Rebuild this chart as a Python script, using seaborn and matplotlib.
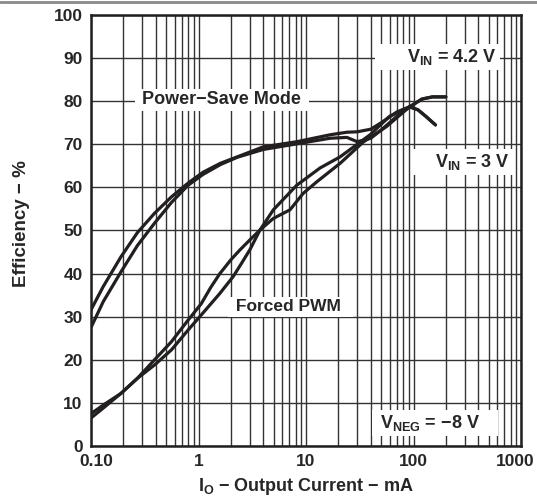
import matplotlib

matplotlib.use("Agg")
import matplotlib.pyplot as plt
import matplotlib.transforms as mtransforms
import numpy as np
import pandas as pd
import seaborn as sns
from matplotlib.lines import Line2D
from matplotlib.ticker import LogLocator, NullFormatter

# Output current in mA and efficiency in %
ps_42_current = [0.10, 0.13, 0.19, 0.27, 0.39, 0.56, 0.80, 1.1, 1.6, 2.3, 4.0,
                 8.2, 16.7, 24, 30, 40, 50, 70, 92, 120, 150, 200]
ps_42_eff = [31.6, 37.0, 43.9, 49.5, 54.0, 57.8, 61.0, 63.5, 65.6, 67.1, 69.4,
             70.6, 72.2, 72.8, 72.9, 73.5, 75.0, 77.5, 78.7, 80.5, 81.0, 81.0]

ps_3_current = [0.10, 0.13, 0.19, 0.27, 0.39, 0.56, 0.80, 1.1, 1.6, 2.3, 4.0,
                8.2, 16.7, 24, 30, 40, 50, 70, 92, 110, 130, 160]
ps_3_eff = [27.5, 33.5, 40.4, 46.5, 51.7, 56.5, 60.5, 63.0, 65.3, 67.0, 68.8,
            70.1, 71.4, 71.6, 70.6, 71.4, 73.3, 76.5, 78.7, 78.0, 76.5, 74.5]

pwm_42_current = [0.10, 0.13, 0.19, 0.27, 0.39, 0.56, 0.80, 1.06, 1.58, 2.1, 2.5,
                  3.0, 3.73, 4.97, 8.2, 13.5, 20.8, 39.4, 60, 92, 120, 150, 200]
pwm_42_eff = [7.5, 9.5, 12.2, 15.7, 18.8, 22.3, 26.9, 30.4, 35.4, 39.3, 42.3,
              45.5, 50.1, 54.8, 60.5, 64.5, 67.1, 72.2, 76.5, 78.7, 80.5, 81.0,
              81.0]

pwm_3_current = [0.10, 0.13, 0.19, 0.27, 0.39, 0.56, 0.80, 1.06, 1.3, 1.58, 2.0,
                 2.43, 3.0, 3.73, 4.97, 7.1, 9.4, 12.6, 20.8, 34, 56, 92, 110,
                 130, 160]
pwm_3_eff = [6.5, 8.8, 12.2, 15.7, 20.0, 24.2, 29.2, 33.0, 36.8, 40.0, 43.2,
             45.5, 47.8, 50.1, 52.8, 54.8, 58.6, 61.3, 65.6, 70.5, 74.1, 78.7,
             78.0, 76.5, 74.5]

x_ticks = [0.1, 1, 10, 100, 1000]
x_tick_labels = ["0.10", "1", "10", "100", "1000"]
y_ticks = [0, 10, 20, 30, 40, 50, 60, 70, 80, 90, 100]

sns.set_style("white")
plt.rcParams["font.family"] = ["Liberation Sans", "DejaVu Sans"]
plt.rcParams["font.weight"] = "bold"
plt.rcParams["mathtext.fontset"] = "custom"
plt.rcParams["mathtext.rm"] = "Liberation Sans:bold"
plt.rcParams["mathtext.bf"] = "Liberation Sans:bold"
plt.rcParams["mathtext.it"] = "Liberation Sans:bold"
plt.rcParams["mathtext.default"] = "bf"

series = [
    ("PS 4.2V", ps_42_current, ps_42_eff),
    ("PS 3V", ps_3_current, ps_3_eff),
    ("PWM 4.2V", pwm_42_current, pwm_42_eff),
    ("PWM 3V", pwm_3_current, pwm_3_eff),
]
df = pd.concat(
    [pd.DataFrame({"current": c, "eff": e, "curve": name}) for name, c, e in series],
    ignore_index=True,
)

fig = plt.figure(figsize=(5.37, 5.01), dpi=100)
ax = fig.add_axes([91 / 537, 55 / 501, 430 / 537, 431 / 501])

ax.set_xscale("log")
sns.lineplot(
    data=df,
    x="current",
    y="eff",
    hue="curve",
    units="curve",
    estimator=None,
    palette=["#231f20"] * 4,
    linewidth=2.3,
    legend=False,
    ax=ax,
    zorder=3,
)

ax.set_xlim(0.1, 1000)
ax.set_ylim(0, 100)
ax.set_xticks(x_ticks)
ax.set_xticklabels(x_tick_labels)
ax.xaxis.set_minor_locator(LogLocator(base=10, subs=np.arange(2, 10)))
ax.xaxis.set_minor_formatter(NullFormatter())
ax.set_yticks(y_ticks)
ax.tick_params(axis="both", which="both", length=0, labelsize=12.5, pad=6)
ax.grid(True, which="both", axis="x", color="#333333", linewidth=1.0)
ax.grid(True, which="major", axis="y", color="#333333", linewidth=1.0)
ax.set_axisbelow(True)
for spine in ax.spines.values():
    spine.set_linewidth(1.8)
    spine.set_color("#231f20")

# nudge the end tick labels inwards like the reference
xt = ax.get_xticklabels()
xt[0].set_transform(xt[0].get_transform()
                    + mtransforms.ScaledTranslation(5 / 100, 0, fig.dpi_scale_trans))
xt[-1].set_transform(xt[-1].get_transform()
                     + mtransforms.ScaledTranslation(-6 / 100, 0, fig.dpi_scale_trans))

ax.set_xlabel("I$_O$ − Output Current − mA", fontsize=13, fontweight="bold", labelpad=5)
ax.set_ylabel("Efficiency − %", fontsize=13.5, fontweight="bold", labelpad=17,
              y=0.517)

# Curve labels on white boxes that hide the grid
box = dict(facecolor="white", edgecolor="none", pad=2)
ax.text(0.27, 80.3, " Power−Save Mode ", fontsize=13, fontweight="bold",
        va="center", ha="left", bbox=box, zorder=4)
ax.text(600, 90.3, "      V$_{IN}$ = 4.2 V", fontsize=13, fontweight="bold",
        va="center", ha="right", bbox=box, zorder=4)
ax.text(790, 65.9, "    V$_{IN}$ = 3 V", fontsize=13, fontweight="bold",
        va="center", ha="right", bbox=box, zorder=4)
ax.text(2.0, 32.3, " Forced PWM  ", fontsize=12.5, fontweight="bold",
        va="center", ha="left", bbox=box, zorder=4)
ax.text(44, 5.3, " V$_{NEG}$ = −8 V    ", fontsize=13, fontweight="bold",
        va="center", ha="left", bbox=box, zorder=4)

# thin gray rule along the top edge of the page
fig.add_artist(Line2D([0, 1], [0.997, 0.997], transform=fig.transFigure,
                      color="#8a8a8a", linewidth=2))

plt.savefig("out.png", dpi=100)
